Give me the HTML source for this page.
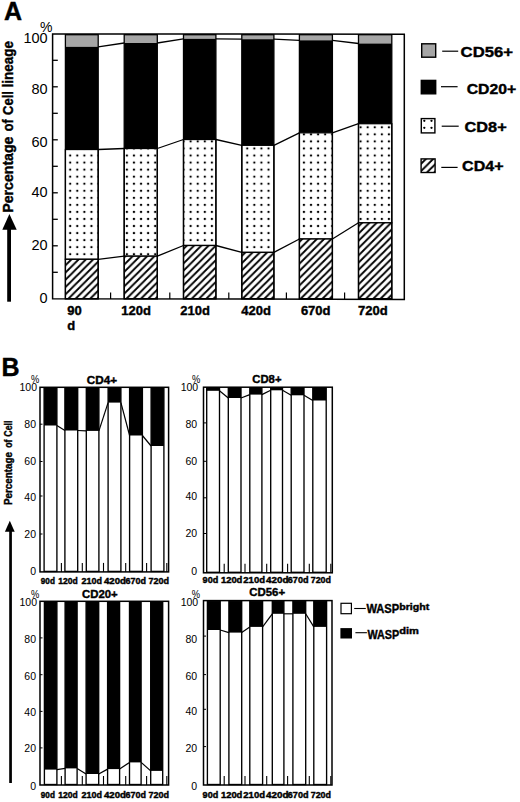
<!DOCTYPE html>
<html><head><meta charset="utf-8"><style>
html,body{margin:0;padding:0;background:#fff;}
body{width:520px;height:802px;overflow:hidden;}
svg{display:block;}
text{font-family:"Liberation Sans", sans-serif;fill:#000;}
text[font-weight=bold]{stroke:#000;stroke-width:0.4px;}
</style></head><body>
<svg width="520" height="802" viewBox="0 0 520 802">
<defs>
<pattern id="dots" patternUnits="userSpaceOnUse" x="2.935" y="3.925" width="7.082" height="7.05">
<rect width="7.082" height="7.05" fill="#fff"/>
<circle cx="3.541" cy="3.525" r="1.15" fill="#000"/>
</pattern>
<pattern id="hatch" patternUnits="userSpaceOnUse" x="0" y="4.1" width="7.26" height="7.26">
<rect width="7.26" height="7.26" fill="#fff"/>
<path d="M-1,8.26 L8.26,-1 M-2,2 L2,-2 M5.26,9.26 L9.26,5.26" stroke="#000" stroke-width="1.85"/>
</pattern>
</defs>

<rect x="65.40" y="34.70" width="32.80" height="12.10" fill="#a6a6a6"/>
<rect x="65.40" y="46.80" width="32.80" height="102.70" fill="#000"/>
<rect x="65.40" y="149.50" width="32.80" height="109.80" fill="url(#dots)" stroke="#000" stroke-width="1.3"/>
<rect x="65.40" y="259.30" width="32.80" height="39.40" fill="url(#hatch)" stroke="#000" stroke-width="1.3"/>
<rect x="65.40" y="34.70" width="32.80" height="264.00" fill="none" stroke="#000" stroke-width="1.3"/>
<rect x="124.20" y="34.70" width="33.10" height="8.30" fill="#a6a6a6"/>
<rect x="124.20" y="43.00" width="33.10" height="105.50" fill="#000"/>
<rect x="124.20" y="148.50" width="33.10" height="107.70" fill="url(#dots)" stroke="#000" stroke-width="1.3"/>
<rect x="124.20" y="256.20" width="33.10" height="42.50" fill="url(#hatch)" stroke="#000" stroke-width="1.3"/>
<rect x="124.20" y="34.70" width="33.10" height="264.00" fill="none" stroke="#000" stroke-width="1.3"/>
<rect x="183.50" y="34.70" width="32.40" height="4.10" fill="#a6a6a6"/>
<rect x="183.50" y="38.80" width="32.40" height="100.70" fill="#000"/>
<rect x="183.50" y="139.50" width="32.40" height="106.00" fill="url(#dots)" stroke="#000" stroke-width="1.3"/>
<rect x="183.50" y="245.50" width="32.40" height="53.20" fill="url(#hatch)" stroke="#000" stroke-width="1.3"/>
<rect x="183.50" y="34.70" width="32.40" height="264.00" fill="none" stroke="#000" stroke-width="1.3"/>
<rect x="241.80" y="34.70" width="32.10" height="4.50" fill="#a6a6a6"/>
<rect x="241.80" y="39.20" width="32.10" height="106.10" fill="#000"/>
<rect x="241.80" y="145.30" width="32.10" height="107.10" fill="url(#dots)" stroke="#000" stroke-width="1.3"/>
<rect x="241.80" y="252.40" width="32.10" height="46.30" fill="url(#hatch)" stroke="#000" stroke-width="1.3"/>
<rect x="241.80" y="34.70" width="32.10" height="264.00" fill="none" stroke="#000" stroke-width="1.3"/>
<rect x="299.40" y="34.70" width="33.00" height="5.60" fill="#a6a6a6"/>
<rect x="299.40" y="40.30" width="33.00" height="92.50" fill="#000"/>
<rect x="299.40" y="132.80" width="33.00" height="106.20" fill="url(#dots)" stroke="#000" stroke-width="1.3"/>
<rect x="299.40" y="239.00" width="33.00" height="59.70" fill="url(#hatch)" stroke="#000" stroke-width="1.3"/>
<rect x="299.40" y="34.70" width="33.00" height="264.00" fill="none" stroke="#000" stroke-width="1.3"/>
<rect x="358.50" y="34.70" width="33.30" height="8.80" fill="#a6a6a6"/>
<rect x="358.50" y="43.50" width="33.30" height="80.20" fill="#000"/>
<rect x="358.50" y="123.70" width="33.30" height="99.10" fill="url(#dots)" stroke="#000" stroke-width="1.3"/>
<rect x="358.50" y="222.80" width="33.30" height="75.90" fill="url(#hatch)" stroke="#000" stroke-width="1.3"/>
<rect x="358.50" y="34.70" width="33.30" height="264.00" fill="none" stroke="#000" stroke-width="1.3"/>
<path d="M52.6,34.0 L404.3,34.2 L404.3,299.4 L52.6,298.7 Z" fill="none" stroke="#000" stroke-width="1.5"/>
<line x1="98.20" y1="46.80" x2="124.20" y2="43.00" stroke="#000" stroke-width="1.3"/>
<line x1="157.30" y1="43.00" x2="183.50" y2="38.80" stroke="#000" stroke-width="1.3"/>
<line x1="215.90" y1="38.80" x2="241.80" y2="39.20" stroke="#000" stroke-width="1.3"/>
<line x1="273.90" y1="39.20" x2="299.40" y2="40.30" stroke="#000" stroke-width="1.3"/>
<line x1="332.40" y1="40.30" x2="358.50" y2="43.50" stroke="#000" stroke-width="1.3"/>
<line x1="98.20" y1="149.50" x2="124.20" y2="148.50" stroke="#000" stroke-width="1.3"/>
<line x1="157.30" y1="148.50" x2="183.50" y2="139.50" stroke="#000" stroke-width="1.3"/>
<line x1="215.90" y1="139.50" x2="241.80" y2="145.30" stroke="#000" stroke-width="1.3"/>
<line x1="273.90" y1="145.30" x2="299.40" y2="132.80" stroke="#000" stroke-width="1.3"/>
<line x1="332.40" y1="132.80" x2="358.50" y2="123.70" stroke="#000" stroke-width="1.3"/>
<line x1="98.20" y1="259.30" x2="124.20" y2="256.20" stroke="#000" stroke-width="1.3"/>
<line x1="157.30" y1="256.20" x2="183.50" y2="245.50" stroke="#000" stroke-width="1.3"/>
<line x1="215.90" y1="245.50" x2="241.80" y2="252.40" stroke="#000" stroke-width="1.3"/>
<line x1="273.90" y1="252.40" x2="299.40" y2="239.00" stroke="#000" stroke-width="1.3"/>
<line x1="332.40" y1="239.00" x2="358.50" y2="222.80" stroke="#000" stroke-width="1.3"/>
<line x1="52.6" y1="272.30" x2="57.800000000000004" y2="272.30" stroke="#000" stroke-width="1.3"/>
<line x1="52.6" y1="245.80" x2="57.800000000000004" y2="245.80" stroke="#000" stroke-width="1.3"/>
<line x1="52.6" y1="219.30" x2="57.800000000000004" y2="219.30" stroke="#000" stroke-width="1.3"/>
<line x1="52.6" y1="192.80" x2="57.800000000000004" y2="192.80" stroke="#000" stroke-width="1.3"/>
<line x1="52.6" y1="166.30" x2="57.800000000000004" y2="166.30" stroke="#000" stroke-width="1.3"/>
<line x1="52.6" y1="139.80" x2="57.800000000000004" y2="139.80" stroke="#000" stroke-width="1.3"/>
<line x1="52.6" y1="113.30" x2="57.800000000000004" y2="113.30" stroke="#000" stroke-width="1.3"/>
<line x1="52.6" y1="86.80" x2="57.800000000000004" y2="86.80" stroke="#000" stroke-width="1.3"/>
<line x1="52.6" y1="60.30" x2="57.800000000000004" y2="60.30" stroke="#000" stroke-width="1.3"/>
<line x1="110.6" y1="299.0" x2="110.6" y2="292.5" stroke="#000" stroke-width="1.2"/>
<line x1="169.8" y1="299.0" x2="169.8" y2="292.5" stroke="#000" stroke-width="1.2"/>
<line x1="228.8" y1="299.0" x2="228.8" y2="292.5" stroke="#000" stroke-width="1.2"/>
<line x1="286.4" y1="299.0" x2="286.4" y2="292.5" stroke="#000" stroke-width="1.2"/>
<line x1="344.6" y1="299.0" x2="344.6" y2="292.5" stroke="#000" stroke-width="1.2"/>
<text x="47.6" y="42.6" font-size="14.5" text-anchor="end">100</text>
<text x="47.6" y="94.4" font-size="14.5" text-anchor="end">80</text>
<text x="47.6" y="147.4" font-size="14.5" text-anchor="end">60</text>
<text x="47.6" y="197.4" font-size="14.5" text-anchor="end">40</text>
<text x="47.6" y="249.6" font-size="14.5" text-anchor="end">20</text>
<text x="47.6" y="303.4" font-size="14.5" text-anchor="end">0</text>
<text x="40" y="32" font-size="14">%</text>
<text x="3.9" y="20.4" font-size="25" font-weight="bold">A</text>
<text x="67.2" y="315.4" font-size="13" font-weight="bold">90</text>
<text x="67.2" y="329.6" font-size="13" font-weight="bold">d</text>
<text x="121.2" y="315.4" font-size="13" font-weight="bold">120d</text>
<text x="180.3" y="315.4" font-size="13" font-weight="bold">210d</text>
<text x="241.2" y="315.4" font-size="13" font-weight="bold">420d</text>
<text x="300.9" y="315.4" font-size="13" font-weight="bold">670d</text>
<text x="358.1" y="315.4" font-size="13" font-weight="bold">720d</text>
<text transform="translate(13.1,212.8) rotate(-90)" font-size="15.5" font-weight="bold" textLength="76.3" lengthAdjust="spacingAndGlyphs">Percentage</text>
<text transform="translate(13.1,131.2) rotate(-90)" font-size="15.5" font-weight="bold" textLength="11.85" lengthAdjust="spacingAndGlyphs">of</text>
<text transform="translate(13.1,114.9) rotate(-90)" font-size="15.5" font-weight="bold" textLength="23.9" lengthAdjust="spacingAndGlyphs">Cell</text>
<text transform="translate(13.1,87.4) rotate(-90)" font-size="15.5" font-weight="bold" textLength="46.5" lengthAdjust="spacingAndGlyphs">lineage</text>
<path d="M9.4,214.1 L16.7,229.8 L2.3,229.8 Z" fill="#000"/>
<rect x="7.2" y="229" width="3.8" height="72.7" fill="#000"/>
<rect x="421.70" y="43.80" width="14.00" height="13.40" fill="#a6a6a6" stroke="#000" stroke-width="1.4"/>
<line x1="442.2" y1="51.2" x2="458.2" y2="51.2" stroke="#000" stroke-width="1.2"/>
<text x="460.59999999999997" y="57.1" font-size="14.8" font-weight="bold" textLength="52.400000000000006" lengthAdjust="spacingAndGlyphs">CD56+</text>
<rect x="421.30" y="80.40" width="14.40" height="13.40" fill="#000" stroke="#000" stroke-width="1.4"/>
<line x1="441.0" y1="86.7" x2="457.6" y2="86.7" stroke="#000" stroke-width="1.2"/>
<text x="466.7" y="93.9" font-size="14.8" font-weight="bold" textLength="49.5" lengthAdjust="spacingAndGlyphs">CD20+</text>
<rect x="421.30" y="118.60" width="13.60" height="14.30" fill="#fff" stroke="#000" stroke-width="1.4"/>
<line x1="441.7" y1="126.2" x2="458.7" y2="126.2" stroke="#000" stroke-width="1.2"/>
<text x="464.59999999999997" y="132.1" font-size="14.8" font-weight="bold" textLength="42.1" lengthAdjust="spacingAndGlyphs">CD8+</text>
<rect x="421.10" y="158.90" width="14.00" height="13.60" fill="url(#hatch)" stroke="#000" stroke-width="1.4"/>
<line x1="441.3" y1="167.4" x2="457.6" y2="167.4" stroke="#000" stroke-width="1.2"/>
<text x="462.09999999999997" y="170.6" font-size="14.8" font-weight="bold" textLength="41.400000000000006" lengthAdjust="spacingAndGlyphs">CD4+</text>
<circle cx="424.3" cy="120.8" r="1.15" fill="#000"/>
<circle cx="431.5" cy="120.8" r="1.15" fill="#000"/>
<circle cx="424.3" cy="127.8" r="1.15" fill="#000"/>
<circle cx="431.5" cy="127.8" r="1.15" fill="#000"/>
<text x="1.4" y="375.8" font-size="25" font-weight="bold">B</text>
<rect x="40" y="387.3" width="128.60" height="184.60" fill="#fff" stroke="#000" stroke-width="1.5"/>
<rect x="44.1" y="387.8" width="12.80" height="37.70" fill="#000"/>
<rect x="44.1" y="387.8" width="12.80" height="183.60" fill="none" stroke="#000" stroke-width="1.35"/>
<rect x="64.9" y="387.8" width="12.80" height="42.70" fill="#000"/>
<rect x="64.9" y="387.8" width="12.80" height="183.60" fill="none" stroke="#000" stroke-width="1.35"/>
<rect x="86.3" y="387.8" width="12.60" height="43.10" fill="#000"/>
<rect x="86.3" y="387.8" width="12.60" height="183.60" fill="none" stroke="#000" stroke-width="1.35"/>
<rect x="108.1" y="387.8" width="12.80" height="14.80" fill="#000"/>
<rect x="108.1" y="387.8" width="12.80" height="183.60" fill="none" stroke="#000" stroke-width="1.35"/>
<rect x="129.6" y="387.8" width="12.80" height="47.70" fill="#000"/>
<rect x="129.6" y="387.8" width="12.80" height="183.60" fill="none" stroke="#000" stroke-width="1.35"/>
<rect x="151.1" y="387.8" width="12.80" height="58.20" fill="#000"/>
<rect x="151.1" y="387.8" width="12.80" height="183.60" fill="none" stroke="#000" stroke-width="1.35"/>
<line x1="56.90" y1="425.5" x2="64.90" y2="430.5" stroke="#000" stroke-width="1.2"/>
<line x1="77.70" y1="430.5" x2="86.30" y2="430.9" stroke="#000" stroke-width="1.2"/>
<line x1="98.90" y1="430.9" x2="108.10" y2="402.6" stroke="#000" stroke-width="1.2"/>
<line x1="120.90" y1="402.6" x2="129.60" y2="435.5" stroke="#000" stroke-width="1.2"/>
<line x1="142.40" y1="435.5" x2="151.10" y2="446.0" stroke="#000" stroke-width="1.2"/>
<line x1="40" y1="424.20" x2="42.5" y2="424.20" stroke="#000" stroke-width="1"/>
<line x1="40" y1="461.50" x2="42.5" y2="461.50" stroke="#000" stroke-width="1"/>
<line x1="40" y1="496.00" x2="42.5" y2="496.00" stroke="#000" stroke-width="1"/>
<line x1="40" y1="534.00" x2="42.5" y2="534.00" stroke="#000" stroke-width="1"/>
<line x1="61.40" y1="571.9" x2="61.40" y2="562.9" stroke="#000" stroke-width="1.1"/>
<line x1="82.30" y1="571.9" x2="82.30" y2="562.9" stroke="#000" stroke-width="1.1"/>
<line x1="103.50" y1="571.9" x2="103.50" y2="562.9" stroke="#000" stroke-width="1.1"/>
<line x1="125.70" y1="571.9" x2="125.70" y2="562.9" stroke="#000" stroke-width="1.1"/>
<line x1="146.60" y1="571.9" x2="146.60" y2="562.9" stroke="#000" stroke-width="1.1"/>
<line x1="166.80" y1="571.9" x2="166.80" y2="562.9" stroke="#000" stroke-width="1.1"/>
<text x="37.00" y="391.35" font-size="10.5" text-anchor="end">100</text>
<text x="36.00" y="428.00" font-size="10.5" text-anchor="end">80</text>
<text x="36.00" y="465.40" font-size="10.5" text-anchor="end">60</text>
<text x="36.00" y="500.55" font-size="10.5" text-anchor="end">40</text>
<text x="36.00" y="537.55" font-size="10.5" text-anchor="end">20</text>
<text x="36.00" y="574.85" font-size="10.5" text-anchor="end">0</text>
<text x="31.00" y="383.10" font-size="10.5" textLength="8.3" lengthAdjust="spacingAndGlyphs">%</text>
<text x="86.8" y="384.0" font-size="11.6" font-weight="bold" textLength="30.3" lengthAdjust="spacingAndGlyphs">CD4+</text>
<text x="40.80" y="583.7" font-size="8.6" font-weight="bold" textLength="14.10" lengthAdjust="spacingAndGlyphs">90d</text>
<text x="58.20" y="583.7" font-size="8.6" font-weight="bold" textLength="19.50" lengthAdjust="spacingAndGlyphs">120d</text>
<text x="81.40" y="583.7" font-size="8.6" font-weight="bold" textLength="20.50" lengthAdjust="spacingAndGlyphs">210d</text>
<text x="104.00" y="583.7" font-size="8.6" font-weight="bold" textLength="22.00" lengthAdjust="spacingAndGlyphs">420d</text>
<text x="125.60" y="583.7" font-size="8.6" font-weight="bold" textLength="20.50" lengthAdjust="spacingAndGlyphs">670d</text>
<text x="148.40" y="583.7" font-size="8.6" font-weight="bold" textLength="20.60" lengthAdjust="spacingAndGlyphs">720d</text>
<rect x="203.5" y="387.2" width="128.80" height="185.60" fill="#fff" stroke="#000" stroke-width="1.5"/>
<rect x="206.7" y="387.7" width="12.80" height="3.10" fill="#000"/>
<rect x="206.7" y="387.7" width="12.80" height="184.60" fill="none" stroke="#000" stroke-width="1.35"/>
<rect x="228.3" y="387.7" width="12.70" height="10.30" fill="#000"/>
<rect x="228.3" y="387.7" width="12.70" height="184.60" fill="none" stroke="#000" stroke-width="1.35"/>
<rect x="249.8" y="387.7" width="12.10" height="6.90" fill="#000"/>
<rect x="249.8" y="387.7" width="12.10" height="184.60" fill="none" stroke="#000" stroke-width="1.35"/>
<rect x="270.7" y="387.7" width="11.80" height="2.60" fill="#000"/>
<rect x="270.7" y="387.7" width="11.80" height="184.60" fill="none" stroke="#000" stroke-width="1.35"/>
<rect x="291.2" y="387.7" width="12.80" height="7.60" fill="#000"/>
<rect x="291.2" y="387.7" width="12.80" height="184.60" fill="none" stroke="#000" stroke-width="1.35"/>
<rect x="312.8" y="387.7" width="13.40" height="12.80" fill="#000"/>
<rect x="312.8" y="387.7" width="13.40" height="184.60" fill="none" stroke="#000" stroke-width="1.35"/>
<line x1="219.50" y1="390.8" x2="228.30" y2="398.0" stroke="#000" stroke-width="1.2"/>
<line x1="241.00" y1="398.0" x2="249.80" y2="394.6" stroke="#000" stroke-width="1.2"/>
<line x1="261.90" y1="394.6" x2="270.70" y2="390.3" stroke="#000" stroke-width="1.2"/>
<line x1="282.50" y1="390.3" x2="291.20" y2="395.3" stroke="#000" stroke-width="1.2"/>
<line x1="304.00" y1="395.3" x2="312.80" y2="400.5" stroke="#000" stroke-width="1.2"/>
<line x1="203.5" y1="422.90" x2="206.0" y2="422.90" stroke="#000" stroke-width="1"/>
<line x1="203.5" y1="461.30" x2="206.0" y2="461.30" stroke="#000" stroke-width="1"/>
<line x1="203.5" y1="497.80" x2="206.0" y2="497.80" stroke="#000" stroke-width="1"/>
<line x1="203.5" y1="533.50" x2="206.0" y2="533.50" stroke="#000" stroke-width="1"/>
<line x1="224.20" y1="572.8" x2="224.20" y2="563.8" stroke="#000" stroke-width="1.1"/>
<line x1="245.00" y1="572.8" x2="245.00" y2="563.8" stroke="#000" stroke-width="1.1"/>
<line x1="266.70" y1="572.8" x2="266.70" y2="563.8" stroke="#000" stroke-width="1.1"/>
<line x1="287.60" y1="572.8" x2="287.60" y2="563.8" stroke="#000" stroke-width="1.1"/>
<line x1="309.30" y1="572.8" x2="309.30" y2="563.8" stroke="#000" stroke-width="1.1"/>
<line x1="330.80" y1="572.8" x2="330.80" y2="563.8" stroke="#000" stroke-width="1.1"/>
<text x="198.20" y="391.15" font-size="10.5" text-anchor="end">100</text>
<text x="197.20" y="427.65" font-size="10.5" text-anchor="end">80</text>
<text x="197.20" y="464.95" font-size="10.5" text-anchor="end">60</text>
<text x="197.20" y="500.05" font-size="10.5" text-anchor="end">40</text>
<text x="197.20" y="537.05" font-size="10.5" text-anchor="end">20</text>
<text x="197.20" y="574.85" font-size="10.5" text-anchor="end">0</text>
<text x="191.90" y="383.10" font-size="10.5" textLength="8.3" lengthAdjust="spacingAndGlyphs">%</text>
<text x="252.3" y="383.2" font-size="11.6" font-weight="bold" textLength="29.2" lengthAdjust="spacingAndGlyphs">CD8+</text>
<text x="202.60" y="583.4" font-size="8.6" font-weight="bold" textLength="15.60" lengthAdjust="spacingAndGlyphs">90d</text>
<text x="220.90" y="583.4" font-size="8.6" font-weight="bold" textLength="21.50" lengthAdjust="spacingAndGlyphs">120d</text>
<text x="243.30" y="583.4" font-size="8.6" font-weight="bold" textLength="21.70" lengthAdjust="spacingAndGlyphs">210d</text>
<text x="266.00" y="583.4" font-size="8.6" font-weight="bold" textLength="22.40" lengthAdjust="spacingAndGlyphs">420d</text>
<text x="287.80" y="583.4" font-size="8.6" font-weight="bold" textLength="20.70" lengthAdjust="spacingAndGlyphs">670d</text>
<text x="310.70" y="583.4" font-size="8.6" font-weight="bold" textLength="20.30" lengthAdjust="spacingAndGlyphs">720d</text>
<rect x="40" y="601.3" width="128.60" height="183.70" fill="#fff" stroke="#000" stroke-width="1.5"/>
<rect x="44.4" y="601.8" width="12.50" height="167.80" fill="#000"/>
<rect x="44.4" y="601.8" width="12.50" height="182.70" fill="none" stroke="#000" stroke-width="1.35"/>
<rect x="65.1" y="601.8" width="12.00" height="166.60" fill="#000"/>
<rect x="65.1" y="601.8" width="12.00" height="182.70" fill="none" stroke="#000" stroke-width="1.35"/>
<rect x="86.1" y="601.8" width="12.60" height="172.20" fill="#000"/>
<rect x="86.1" y="601.8" width="12.60" height="182.70" fill="none" stroke="#000" stroke-width="1.35"/>
<rect x="107.6" y="601.8" width="12.00" height="167.30" fill="#000"/>
<rect x="107.6" y="601.8" width="12.00" height="182.70" fill="none" stroke="#000" stroke-width="1.35"/>
<rect x="129.5" y="601.8" width="11.60" height="160.60" fill="#000"/>
<rect x="129.5" y="601.8" width="11.60" height="182.70" fill="none" stroke="#000" stroke-width="1.35"/>
<rect x="150.7" y="601.8" width="12.00" height="169.10" fill="#000"/>
<rect x="150.7" y="601.8" width="12.00" height="182.70" fill="none" stroke="#000" stroke-width="1.35"/>
<line x1="56.90" y1="769.6" x2="65.10" y2="768.4" stroke="#000" stroke-width="1.2"/>
<line x1="77.10" y1="768.4" x2="86.10" y2="774.0" stroke="#000" stroke-width="1.2"/>
<line x1="98.70" y1="774.0" x2="107.60" y2="769.1" stroke="#000" stroke-width="1.2"/>
<line x1="119.60" y1="769.1" x2="129.50" y2="762.4" stroke="#000" stroke-width="1.2"/>
<line x1="141.10" y1="762.4" x2="150.70" y2="770.9" stroke="#000" stroke-width="1.2"/>
<line x1="40" y1="637.90" x2="42.5" y2="637.90" stroke="#000" stroke-width="1"/>
<line x1="40" y1="674.70" x2="42.5" y2="674.70" stroke="#000" stroke-width="1"/>
<line x1="40" y1="711.40" x2="42.5" y2="711.40" stroke="#000" stroke-width="1"/>
<line x1="40" y1="747.90" x2="42.5" y2="747.90" stroke="#000" stroke-width="1"/>
<line x1="61.40" y1="785.0" x2="61.40" y2="776.0" stroke="#000" stroke-width="1.1"/>
<line x1="82.30" y1="785.0" x2="82.30" y2="776.0" stroke="#000" stroke-width="1.1"/>
<line x1="103.50" y1="785.0" x2="103.50" y2="776.0" stroke="#000" stroke-width="1.1"/>
<line x1="125.70" y1="785.0" x2="125.70" y2="776.0" stroke="#000" stroke-width="1.1"/>
<line x1="146.60" y1="785.0" x2="146.60" y2="776.0" stroke="#000" stroke-width="1.1"/>
<line x1="166.80" y1="785.0" x2="166.80" y2="776.0" stroke="#000" stroke-width="1.1"/>
<text x="37.00" y="605.95" font-size="10.5" text-anchor="end">100</text>
<text x="36.00" y="643.25" font-size="10.5" text-anchor="end">80</text>
<text x="36.00" y="679.95" font-size="10.5" text-anchor="end">60</text>
<text x="36.00" y="715.55" font-size="10.5" text-anchor="end">40</text>
<text x="36.00" y="751.95" font-size="10.5" text-anchor="end">20</text>
<text x="36.00" y="789.85" font-size="10.5" text-anchor="end">0</text>
<text x="31.00" y="597.50" font-size="10.5" textLength="8.3" lengthAdjust="spacingAndGlyphs">%</text>
<text x="82.0" y="598.0" font-size="11.6" font-weight="bold" textLength="35.7" lengthAdjust="spacingAndGlyphs">CD20+</text>
<text x="40.80" y="797.8" font-size="8.6" font-weight="bold" textLength="14.10" lengthAdjust="spacingAndGlyphs">90d</text>
<text x="58.20" y="797.8" font-size="8.6" font-weight="bold" textLength="19.50" lengthAdjust="spacingAndGlyphs">120d</text>
<text x="81.40" y="797.8" font-size="8.6" font-weight="bold" textLength="20.50" lengthAdjust="spacingAndGlyphs">210d</text>
<text x="104.00" y="797.8" font-size="8.6" font-weight="bold" textLength="22.00" lengthAdjust="spacingAndGlyphs">420d</text>
<text x="125.60" y="797.8" font-size="8.6" font-weight="bold" textLength="20.50" lengthAdjust="spacingAndGlyphs">670d</text>
<text x="148.40" y="797.8" font-size="8.6" font-weight="bold" textLength="20.60" lengthAdjust="spacingAndGlyphs">720d</text>
<rect x="203.5" y="600.6" width="128.50" height="184.40" fill="#fff" stroke="#000" stroke-width="1.5"/>
<rect x="207.4" y="601.1" width="12.80" height="28.90" fill="#000"/>
<rect x="207.4" y="601.1" width="12.80" height="183.40" fill="none" stroke="#000" stroke-width="1.35"/>
<rect x="228.9" y="601.1" width="12.80" height="31.50" fill="#000"/>
<rect x="228.9" y="601.1" width="12.80" height="183.40" fill="none" stroke="#000" stroke-width="1.35"/>
<rect x="249.8" y="601.1" width="12.80" height="25.80" fill="#000"/>
<rect x="249.8" y="601.1" width="12.80" height="183.40" fill="none" stroke="#000" stroke-width="1.35"/>
<rect x="272.3" y="601.1" width="11.60" height="12.70" fill="#000"/>
<rect x="272.3" y="601.1" width="11.60" height="183.40" fill="none" stroke="#000" stroke-width="1.35"/>
<rect x="292.9" y="601.1" width="12.80" height="12.70" fill="#000"/>
<rect x="292.9" y="601.1" width="12.80" height="183.40" fill="none" stroke="#000" stroke-width="1.35"/>
<rect x="313.8" y="601.1" width="12.80" height="25.80" fill="#000"/>
<rect x="313.8" y="601.1" width="12.80" height="183.40" fill="none" stroke="#000" stroke-width="1.35"/>
<line x1="220.20" y1="630.0" x2="228.90" y2="632.6" stroke="#000" stroke-width="1.2"/>
<line x1="241.70" y1="632.6" x2="249.80" y2="626.9" stroke="#000" stroke-width="1.2"/>
<line x1="262.60" y1="626.9" x2="272.30" y2="613.8" stroke="#000" stroke-width="1.2"/>
<line x1="283.90" y1="613.8" x2="292.90" y2="613.8" stroke="#000" stroke-width="1.2"/>
<line x1="305.70" y1="613.8" x2="313.80" y2="626.9" stroke="#000" stroke-width="1.2"/>
<line x1="203.5" y1="636.10" x2="206.0" y2="636.10" stroke="#000" stroke-width="1"/>
<line x1="203.5" y1="674.60" x2="206.0" y2="674.60" stroke="#000" stroke-width="1"/>
<line x1="203.5" y1="709.30" x2="206.0" y2="709.30" stroke="#000" stroke-width="1"/>
<line x1="203.5" y1="746.60" x2="206.0" y2="746.60" stroke="#000" stroke-width="1"/>
<line x1="224.20" y1="785.0" x2="224.20" y2="776.0" stroke="#000" stroke-width="1.1"/>
<line x1="245.00" y1="785.0" x2="245.00" y2="776.0" stroke="#000" stroke-width="1.1"/>
<line x1="266.70" y1="785.0" x2="266.70" y2="776.0" stroke="#000" stroke-width="1.1"/>
<line x1="287.60" y1="785.0" x2="287.60" y2="776.0" stroke="#000" stroke-width="1.1"/>
<line x1="309.30" y1="785.0" x2="309.30" y2="776.0" stroke="#000" stroke-width="1.1"/>
<line x1="330.80" y1="785.0" x2="330.80" y2="776.0" stroke="#000" stroke-width="1.1"/>
<text x="198.20" y="605.55" font-size="10.5" text-anchor="end">100</text>
<text x="197.20" y="643.25" font-size="10.5" text-anchor="end">80</text>
<text x="197.20" y="679.55" font-size="10.5" text-anchor="end">60</text>
<text x="197.20" y="715.25" font-size="10.5" text-anchor="end">40</text>
<text x="197.20" y="752.15" font-size="10.5" text-anchor="end">20</text>
<text x="197.20" y="789.85" font-size="10.5" text-anchor="end">0</text>
<text x="191.80" y="597.50" font-size="10.5" textLength="8.3" lengthAdjust="spacingAndGlyphs">%</text>
<text x="249.3" y="596.3" font-size="11.6" font-weight="bold" textLength="35.8" lengthAdjust="spacingAndGlyphs">CD56+</text>
<text x="202.60" y="797.8" font-size="8.6" font-weight="bold" textLength="15.60" lengthAdjust="spacingAndGlyphs">90d</text>
<text x="220.90" y="797.8" font-size="8.6" font-weight="bold" textLength="21.50" lengthAdjust="spacingAndGlyphs">120d</text>
<text x="243.30" y="797.8" font-size="8.6" font-weight="bold" textLength="21.70" lengthAdjust="spacingAndGlyphs">210d</text>
<text x="266.00" y="797.8" font-size="8.6" font-weight="bold" textLength="22.40" lengthAdjust="spacingAndGlyphs">420d</text>
<text x="287.80" y="797.8" font-size="8.6" font-weight="bold" textLength="20.70" lengthAdjust="spacingAndGlyphs">670d</text>
<text x="310.70" y="797.8" font-size="8.6" font-weight="bold" textLength="20.30" lengthAdjust="spacingAndGlyphs">720d</text>
<text transform="translate(12.3,505.0) rotate(-90)" font-size="10.3" font-weight="bold" textLength="53.0" lengthAdjust="spacingAndGlyphs">Percentage</text>
<text transform="translate(12.3,447.7) rotate(-90)" font-size="10.3" font-weight="bold" textLength="8.2" lengthAdjust="spacingAndGlyphs">of</text>
<text transform="translate(12.3,436.7) rotate(-90)" font-size="10.3" font-weight="bold" textLength="16.2" lengthAdjust="spacingAndGlyphs">Cell</text>
<path d="M9.8,520.8 L14.7,531.8 L4.9,531.8 Z" fill="#000"/>
<rect x="9.2" y="531" width="2.7" height="252" fill="#000"/>
<rect x="341" y="603.3" width="10.4" height="10.4" fill="#fff" stroke="#000" stroke-width="1.2"/>
<line x1="354.2" y1="608.5" x2="365.8" y2="608.5" stroke="#000" stroke-width="1.1"/>
<text x="366.4" y="613.1" font-size="12.2" font-weight="bold" textLength="32.8" lengthAdjust="spacingAndGlyphs">WASP</text>
<text x="399.2" y="609.8" font-size="9" font-weight="bold" textLength="30" lengthAdjust="spacingAndGlyphs">bright</text>
<rect x="340.4" y="628.1" width="11.6" height="10.4" fill="#000"/>
<line x1="355.4" y1="632.7" x2="366.9" y2="632.7" stroke="#000" stroke-width="1.1"/>
<text x="367.5" y="638.5" font-size="12.2" font-weight="bold" textLength="31.7" lengthAdjust="spacingAndGlyphs">WASP</text>
<text x="399.2" y="633.8" font-size="9" font-weight="bold" textLength="19.7" lengthAdjust="spacingAndGlyphs">dim</text>
</svg></body></html>
